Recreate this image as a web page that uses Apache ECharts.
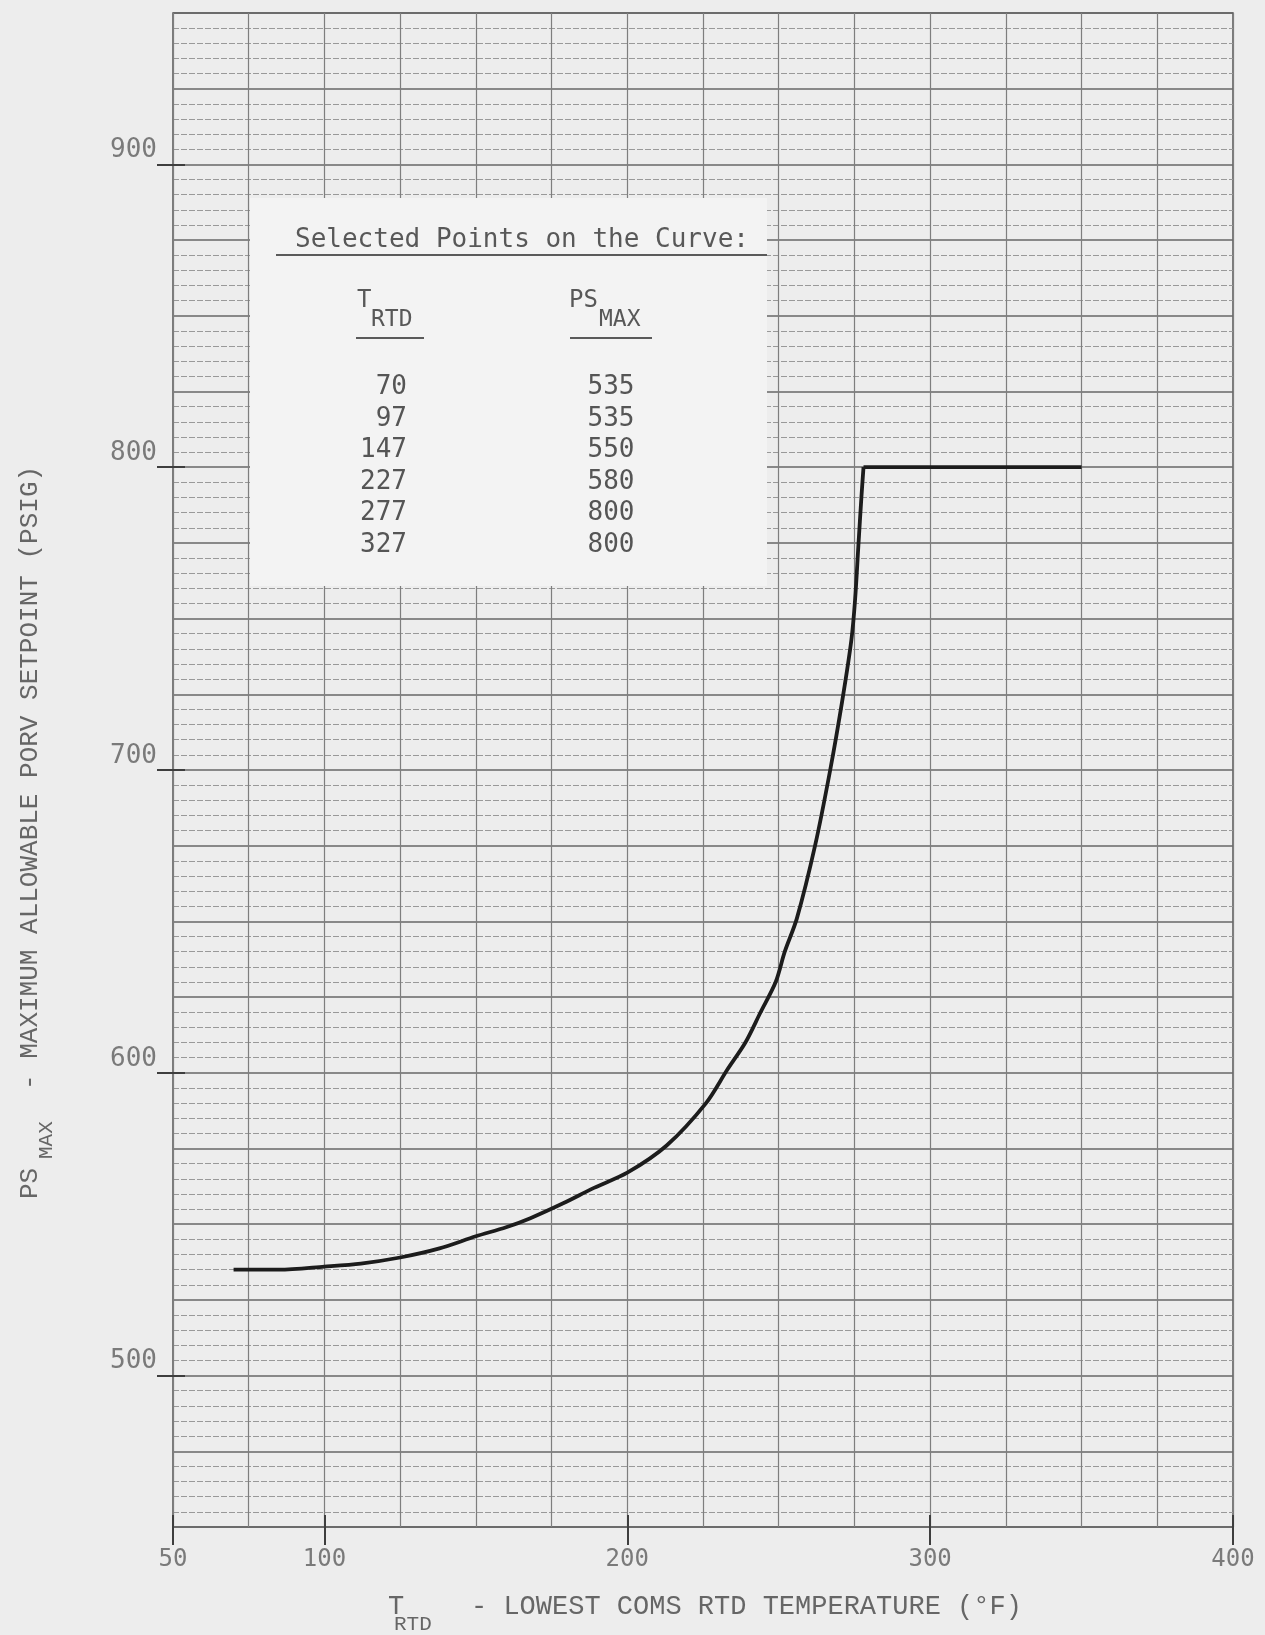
<!DOCTYPE html>
<html>
<head>
<meta charset="utf-8">
<title>PS max vs T RTD</title>
<script src="https://cdn.jsdelivr.net/npm/echarts@6.0.0/dist/echarts.min.js"></script>
<style>
  html, body { margin: 0; padding: 0; background: #ededed; }
  #chart { width: 1265px; height: 1635px; }
</style>
</head>
<body>
<div id="chart"></div>
<script>
// curve (T in F, PS in psig)
var curveT = [70, 85, 100, 112, 125, 138, 150, 160, 168, 179, 189, 200, 213, 226, 233, 239, 244, 249, 252, 256, 262, 267, 271, 274, 275.2, 276.3, 277.3, 278];
var curveP = [535, 535, 536, 537, 539, 542, 546, 549, 552, 557, 562, 567, 576, 590, 601, 610, 620, 630, 640, 651, 675, 700, 723, 743, 756, 774, 790, 800];
// flat top
var flatT = [278, 350];
var flatP = [800, 800];

// table printed on the chart
var tableT = [70, 97, 147, 227, 277, 327];
var tablePS = [535, 535, 550, 580, 800, 800];

var xTicks = [50, 100, 200, 300, 400];
var yTicks = [500, 600, 700, 800, 900];

var mono = '"DejaVu Sans Mono", monospace';
var typeFont = '"Liberation Mono", "DejaVu Sans Mono", monospace';

function pairs(a, b) {
    return a.map(function (v, i) { return [v, b[i]]; });
}

var chart = echarts.init(document.getElementById('chart'));

// table overlay
var rowY = [387, 419, 450, 482, 513, 545];
var table = [
    {type: 'rect', shape: {x: 250, y: 198, width: 517, height: 388}, style: {fill: '#f3f3f3'}, z: 10},
    {type: 'text', x: 295, y: 240, z: 11,
        style: {text: 'Selected Points on the Curve:', fontSize: 26, fontFamily: mono, fill: '#585858', align: 'left', verticalAlign: 'middle'}},
    {type: 'line', shape: {x1: 276, y1: 255, x2: 767, y2: 255}, style: {stroke: '#5a5a5a', lineWidth: 2}, z: 11},
    {type: 'text', x: 357, y: 301, z: 11, style: {text: 'T', fontSize: 24, fontFamily: mono, fill: '#585858', align: 'left', verticalAlign: 'middle'}},
    {type: 'text', x: 371, y: 320, z: 11, style: {text: 'RTD', fontSize: 23, fontFamily: mono, fill: '#585858', align: 'left', verticalAlign: 'middle'}},
    {type: 'line', shape: {x1: 356, y1: 338, x2: 424, y2: 338}, style: {stroke: '#5a5a5a', lineWidth: 2}, z: 11},
    {type: 'text', x: 569, y: 301, z: 11, style: {text: 'PS', fontSize: 24, fontFamily: mono, fill: '#585858', align: 'left', verticalAlign: 'middle'}},
    {type: 'text', x: 599, y: 320, z: 11, style: {text: 'MAX', fontSize: 23, fontFamily: mono, fill: '#585858', align: 'left', verticalAlign: 'middle'}},
    {type: 'line', shape: {x1: 570, y1: 338, x2: 652, y2: 338}, style: {stroke: '#5a5a5a', lineWidth: 2}, z: 11}
];
tableT.forEach(function (t, i) {
    table.push({type: 'text', x: 407, y: rowY[i], z: 11,
        style: {text: String(t), fontSize: 26, fontFamily: mono, fill: '#555', align: 'right', verticalAlign: 'middle'}});
    table.push({type: 'text', x: 611, y: rowY[i], z: 11,
        style: {text: String(tablePS[i]), fontSize: 26, fontFamily: mono, fill: '#555', align: 'center', verticalAlign: 'middle'}});
});

// axis titles (with subscripts)
var titles = [
    {type: 'group', x: 30, y: 1199, rotation: Math.PI / 2, children: [
        {type: 'text', x: 0, y: 0, style: {text: 'PS', fontSize: 26, fontFamily: typeFont, fill: '#666', align: 'left', verticalAlign: 'middle'}},
        {type: 'text', x: 40, y: 16, style: {text: 'MAX', fontSize: 21, fontFamily: typeFont, fill: '#666', align: 'left', verticalAlign: 'middle'}},
        {type: 'text', x: 109, y: 0, style: {text: '- MAXIMUM ALLOWABLE PORV SETPOINT (PSIG)', fontSize: 26, fontFamily: typeFont, fill: '#666', align: 'left', verticalAlign: 'middle'}}
    ]},
    {type: 'text', x: 388, y: 1607, style: {text: 'T', fontSize: 27, fontFamily: typeFont, fill: '#666', align: 'left', verticalAlign: 'middle'}},
    {type: 'text', x: 394, y: 1624, style: {text: 'RTD', fontSize: 21, fontFamily: typeFont, fill: '#666', align: 'left', verticalAlign: 'middle'}},
    {type: 'text', x: 471, y: 1607, style: {text: '- LOWEST COMS RTD TEMPERATURE (\u00b0F)', fontSize: 27, fontFamily: typeFont, fill: '#666', align: 'left', verticalAlign: 'middle'}}
];

var option = {
    backgroundColor: '#ededed',
    animation: false,
    grid: {left: 173, right: 32, top: 13, bottom: 108, show: true, borderColor: '#555', borderWidth: 1.5, backgroundColor: 'transparent'},
    xAxis: [
        // graph paper verticals
        {type: 'value', min: 50, max: 400, interval: 25,
            axisLine: {show: false}, axisTick: {show: false}, axisLabel: {show: false},
            splitLine: {show: true, lineStyle: {color: '#7e7e7e', width: 1.2}}},
        // labelled ticks
        {type: 'value', min: 50, max: 400, position: 'bottom',
            axisLine: {show: false}, splitLine: {show: false},
            axisTick: {show: true, customValues: xTicks, length: 18, lineStyle: {color: '#3e3e3e', width: 2}},
            axisLabel: {customValues: xTicks, margin: 21, fontSize: 24, fontFamily: mono, color: '#7a7a7a'}},
        {type: 'value', min: 50, max: 400, position: 'bottom',
            axisLine: {show: false}, splitLine: {show: false}, axisLabel: {show: false},
            axisTick: {show: true, inside: true, customValues: xTicks, length: 12, lineStyle: {color: '#3e3e3e', width: 2}}}
    ],
    yAxis: [
        // graph paper horizontals: bold every 25, light every 5
        {type: 'value', min: 450, max: 950, interval: 25,
            axisLine: {show: false}, axisTick: {show: false}, axisLabel: {show: false},
            splitLine: {show: true, lineStyle: {color: '#666', width: 1.6}},
            minorTick: {show: false, splitNumber: 5},
            minorSplitLine: {show: true, lineStyle: {color: '#999', width: 1, type: [6, 2]}}},
        {type: 'value', min: 450, max: 950, position: 'left',
            axisLine: {show: false}, splitLine: {show: false},
            axisTick: {show: true, customValues: yTicks, length: 16, lineStyle: {color: '#3e3e3e', width: 2}},
            axisLabel: {customValues: yTicks, margin: 16, fontSize: 26, fontFamily: mono, color: '#7a7a7a',
                verticalAlign: 'bottom', padding: [0, 0, 1, 0]}},
        {type: 'value', min: 450, max: 950, position: 'left',
            axisLine: {show: false}, splitLine: {show: false}, axisLabel: {show: false},
            axisTick: {show: true, inside: true, customValues: yTicks, length: 12, lineStyle: {color: '#3e3e3e', width: 2}}}
    ],
    graphic: table.concat(titles),
    series: [
        {
            name: 'PS max',
            type: 'line',
            xAxisIndex: 0,
            yAxisIndex: 0,
            data: pairs(curveT, curveP),
            smooth: 0.3,
            showSymbol: false,
            lineStyle: {color: '#1c1c1c', width: 3.8},
            z: 5
        },
        {
            name: 'PS max flat',
            type: 'line',
            xAxisIndex: 0,
            yAxisIndex: 0,
            data: pairs(flatT, flatP),
            showSymbol: false,
            lineStyle: {color: '#1c1c1c', width: 3.8},
            z: 5
        }
    ]
};

chart.setOption(option);
</script>
</body>
</html>
